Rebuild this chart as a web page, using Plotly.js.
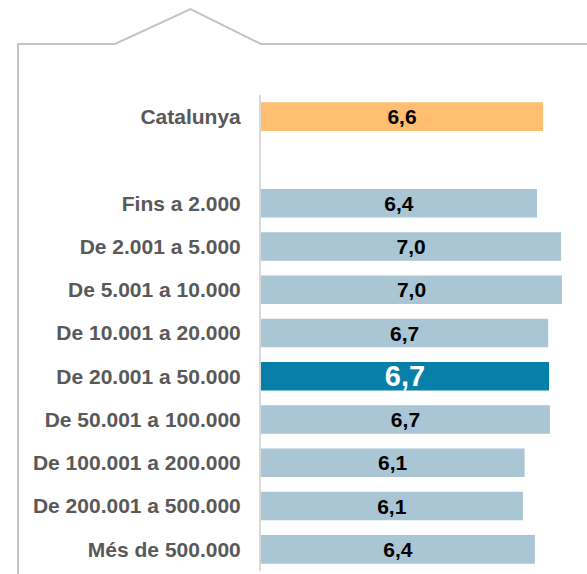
<!DOCTYPE html>
<html>
<head>
<meta charset="utf-8">
<script src="https://cdn.plot.ly/plotly-3.0.1.min.js"></script>
<style>html,body{margin:0;padding:0;background:#fff;}#chart{width:587px;height:574px;}</style>
</head>
<body>
<div id="chart"></div>
<script>
// Categories (top to bottom); " " is the empty spacer row
const categories = ["Catalunya", " ", "Fins a 2.000", "De 2.001 a 5.000", "De 5.001 a 10.000",
  "De 10.001 a 20.000", "De 20.001 a 50.000", "De 50.001 a 100.000",
  "De 100.001 a 200.000", "De 200.001 a 500.000", "Més de 500.000"];
const values = [6.57, null, 6.43, 6.99, 7.01, 6.69, 6.71, 6.73, 6.14, 6.10, 6.38];
const valueLabels = ["6,6", "", "6,4", "7,0", "7,0", "6,7", "6,7", "6,7", "6,1", "6,1", "6,4"];
const barColors = ["#FFBE70", "#FFFFFF", "#AAC5D4", "#AAC5D4", "#AAC5D4", "#AAC5D4",
  "#087FA8", "#AAC5D4", "#AAC5D4", "#AAC5D4", "#AAC5D4"];
const labelColors = ["#000", "#000", "#000", "#000", "#000", "#000", "#FFF", "#000", "#000", "#000", "#000"];
const labelSizes = [21, 21, 21, 21, 21, 21, 29, 21, 21, 21, 21];

const W = 587, H = 574, L = 261, T = 95, B = 3;
const pw = W - L, ph = H - T - B;
const px = x => (x - L) / pw;
const py = y => (H - B - y) / ph;
const framePath = `M ${px(18)},${py(576)} L ${px(18)},${py(44)} L ${px(115)},${py(44)} L ${px(190.5)},${py(9)} L ${px(261)},${py(44)} L ${px(592)},${py(44)}`;

const trace = {
  type: 'bar', orientation: 'h',
  y: categories, x: values,
  text: valueLabels, texttemplate: '%{text}',
  textposition: 'inside', insidetextanchor: 'middle', constraintext: 'none',
  textfont: {family: 'Liberation Sans, Arial, sans-serif', weight: 'bold', color: labelColors, size: labelSizes},
  marker: {color: barColors, line: {width: 0}},
  hoverinfo: 'none', cliponaxis: false
};

const layout = {
  width: W, height: H,
  margin: {l: L, r: 0, t: T, b: B, pad: 0},
  paper_bgcolor: '#fff', plot_bgcolor: '#fff',
  showlegend: false,
  bargap: 0.34,
  xaxis: {visible: false, range: [0, pw / 42.93], fixedrange: true},
  yaxis: {
    type: 'category', categoryorder: 'array', categoryarray: categories,
    range: [categories.length - 0.5, -0.5],
    showgrid: false, zeroline: false,
    showline: true, linecolor: '#D9D9D9', linewidth: 2,
    ticks: '', ticklabelstandoff: 14,
    tickfont: {family: 'Liberation Sans, Arial, sans-serif', weight: 'bold', size: 21, color: '#595959'},
    fixedrange: true
  },
  shapes: [{
    type: 'path', xref: 'paper', yref: 'paper', path: framePath,
    line: {color: '#C4C4C4', width: 2}, layer: 'above'
  }]
};

Plotly.newPlot('chart', [trace], layout, {displayModeBar: false, staticPlot: true});
</script>
</body>
</html>
